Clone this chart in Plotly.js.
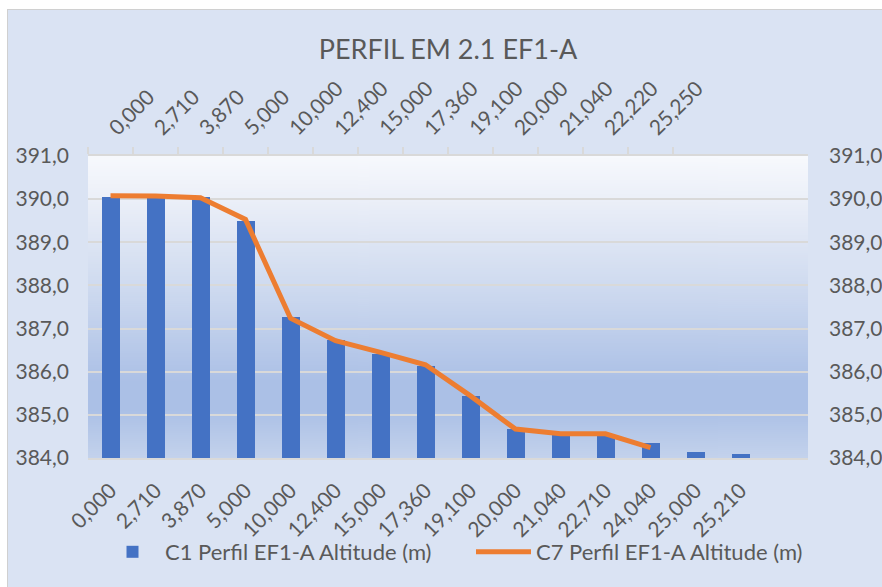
<!DOCTYPE html>
<html>
<head>
<meta charset="utf-8">
<script src="https://cdn.plot.ly/plotly-3.0.1.min.js"></script>
<style>
  html, body { margin: 0; padding: 0; background: #ffffff; width: 882px; height: 587px; overflow: hidden; }
  #frame { position: absolute; left: 7px; top: 9px; width: 875px; height: 578px;
           border-left: 1px solid #d0d0d0; border-top: 1px solid #d0d0d0; box-sizing: border-box; }
  #chart { position: absolute; left: 0; top: 0; width: 874px; height: 577px; }
</style>
</head>
<body>
<div id="frame"><div id="chart"></div></div>
<script>
// ---- data ----
const bottomCategories = ["0,000","2,710","3,870","5,000","10,000","12,400","15,000","17,360","19,100","20,000","21,040","22,710","24,040","25,000","25,210"];
const barValues = [390.05, 390.04, 390.04, 389.50, 387.26, 386.74, 386.41, 386.14, 385.43, 384.67, 384.55, 384.55, 384.35, 384.14, 384.09];
const topCategories = ["0,000","2,710","3,870","5,000","10,000","12,400","15,000","17,360","19,100","20,000","21,040","22,220","25,250"];
const lineValues = [390.08, 390.07, 390.03, 389.53, 387.24, 386.72, 386.45, 386.16, 385.44, 384.67, 384.56, 384.56, 384.24];
const barName = "C1 Perfil EF1-A Altitude (m)";
const lineName = "C7 Perfil EF1-A Altitude (m)";
const chartTitle = "PERFIL EM 2.1 EF1-A";

// ---- gradient background for plot area ----
function gradientURL() {
  const c = document.createElement('canvas');
  c.width = 4; c.height = 300;
  const g = c.getContext('2d');
  const grd = g.createLinearGradient(0, 0, 0, 300);
  grd.addColorStop(0.00, '#f7f9fd');
  grd.addColorStop(0.15, '#ebeff8');
  grd.addColorStop(0.45, '#cdd9ef');
  grd.addColorStop(0.75, '#abc0e6');
  grd.addColorStop(0.84, '#abc0e6');
  grd.addColorStop(1.00, '#c3d2ec');
  g.fillStyle = grd;
  g.fillRect(0, 0, 4, 300);
  return c.toDataURL('image/png');
}

const FONT = 'Lato, "Open Sans", sans-serif';
const TXT = '#595959';
const GRID = '#d9d9d9';
const TICKSIZE = 21;

const traces = [
  {
    type: 'bar', name: barName,
    x: bottomCategories, y: barValues,
    xaxis: 'x', yaxis: 'y',
    marker: { color: '#4472c4' },
    width: 0.4,
    legend: 'legend',
    hoverinfo: 'x+y'
  },
  {
    type: 'scatter', mode: 'lines', name: lineName,
    x: topCategories, y: lineValues,
    xaxis: 'x2', yaxis: 'y2',
    line: { color: '#ed7d31', width: 5 },
    legend: 'legend2',
    hoverinfo: 'x+y'
  }
];

const slotRange = [-0.5, 15.5];
const legendCommon = {
  orientation: 'h', xanchor: 'left', xref: 'container',
  y: 1 - 542 / 577, yanchor: 'middle', yref: 'container',
  font: { family: FONT, size: 22, color: TXT },
  itemwidth: 55, bgcolor: 'rgba(0,0,0,0)'
};
const layout = {
  width: 874, height: 577,
  paper_bgcolor: '#dae3f3',
  plot_bgcolor: 'rgba(0,0,0,0)',
  margin: { l: 80, r: 74, t: 146, b: 129, autoexpand: false },
  font: { family: FONT, color: TXT, size: TICKSIZE },
  title: {
    text: chartTitle,
    font: { family: FONT, size: 27, color: TXT },
    x: 0.5, xanchor: 'center', xref: 'paper',
    y: 1 - 40 / 577, yanchor: 'middle', yref: 'container'
  },
  bargap: 0,
  xaxis: {
    type: 'category', categoryorder: 'array', categoryarray: bottomCategories,
    range: slotRange, tickangle: -45,
    showgrid: false, zeroline: false,
    showline: true, linecolor: GRID, linewidth: 2,
    ticks: '', ticklabelstandoff: 10,
    tickfont: { family: FONT, size: TICKSIZE, color: TXT }
  },
  xaxis2: {
    type: 'category', categoryorder: 'array', categoryarray: topCategories,
    range: slotRange, overlaying: 'x', side: 'top', anchor: 'y',
    tickangle: -45, showgrid: false, zeroline: false,
    showline: true, linecolor: GRID, linewidth: 2,
    ticks: 'outside', tickson: 'boundaries', ticklen: 7, tickcolor: GRID, tickwidth: 1.5,
    ticklabelstandoff: 6,
    tickfont: { family: FONT, size: TICKSIZE, color: TXT }
  },
  yaxis: {
    range: [384, 391], dtick: 1, tickformat: '.1f',
    showgrid: true, gridcolor: GRID, gridwidth: 1.5,
    zeroline: false, showline: false, ticks: '',
    ticklabelstandoff: 18,
    tickfont: { family: FONT, size: TICKSIZE, color: TXT }
  },
  yaxis2: {
    range: [384, 391], dtick: 1, tickformat: '.1f',
    overlaying: 'y', side: 'right', anchor: 'x',
    showgrid: false, zeroline: false, showline: false, ticks: '',
    ticklabelstandoff: 20,
    tickfont: { family: FONT, size: TICKSIZE, color: TXT }
  },
  separators: ',.',
  showlegend: true,
  legend: Object.assign({}, legendCommon, { x: 92 / 874 }),
  legend2: Object.assign({}, legendCommon, { x: 463 / 874 }),
  images: [{
    source: gradientURL(), xref: 'paper', yref: 'paper',
    x: 0, y: 1, sizex: 1, sizey: 1, sizing: 'stretch',
    xanchor: 'left', yanchor: 'top', layer: 'below'
  }]
};

Plotly.newPlot('chart', traces, layout, { displayModeBar: false });
</script>
</body>
</html>
